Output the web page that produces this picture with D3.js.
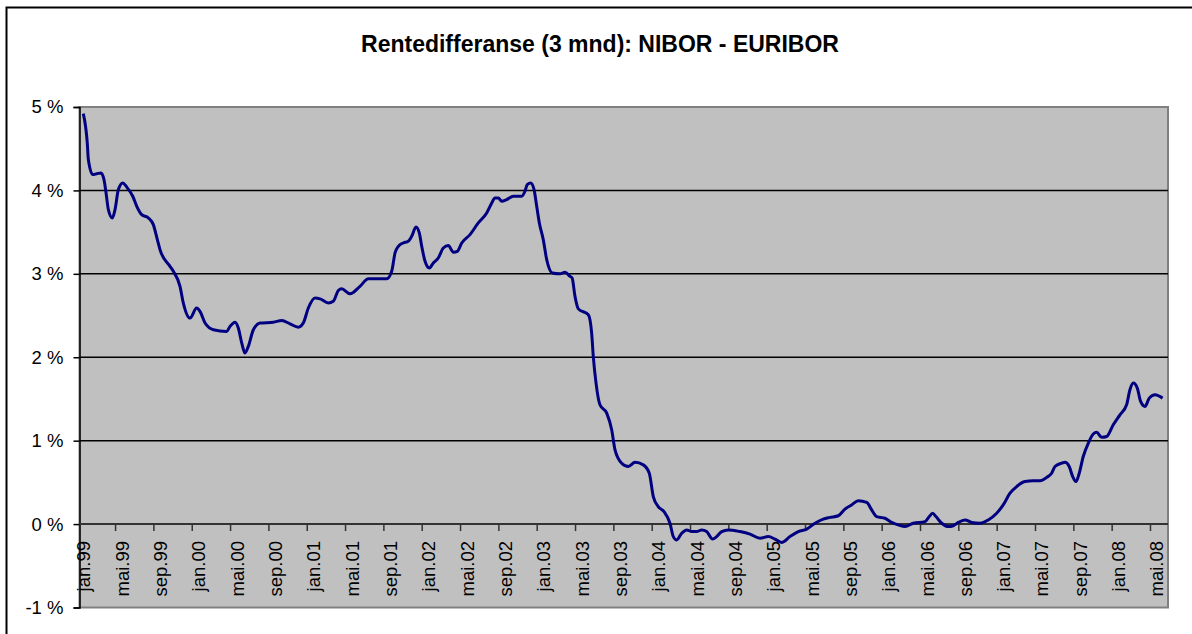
<!DOCTYPE html>
<html>
<head>
<meta charset="utf-8">
<script src="https://cdn.jsdelivr.net/npm/d3@7"></script>
<style>
  body { margin: 0; background: #fff; }
  svg text { font-family: "Liberation Sans", Arial, sans-serif; fill: #000; }
</style>
</head>
<body>
<div id="chart"></div>
<script>
// data (time as decimal year, spread in percentage points)
const years = [
  1999.057, 1999.092, 1999.101, 1999.139, 1999.174, 1999.211, 1999.237, 1999.255, 1999.275, 1999.310,
  1999.333, 1999.362, 1999.400, 1999.435, 1999.487, 1999.522, 1999.565, 1999.623, 1999.666, 1999.701,
  1999.724, 1999.811, 1999.840, 1999.898, 1999.927, 1999.985, 2000.043, 2000.072, 2000.116, 2000.188,
  2000.304, 2000.333, 2000.377, 2000.405, 2000.435, 2000.463, 2000.492, 2000.536, 2000.594, 2000.710,
  2000.783, 2000.855, 2000.927, 2000.970, 2001.014, 2001.072, 2001.116, 2001.188, 2001.231, 2001.275,
  2001.304, 2001.377, 2001.463, 2001.536, 2001.696, 2001.739, 2001.768, 2001.797, 2001.840, 2001.883,
  2001.913, 2001.950, 2001.979, 2002.000, 2002.029, 2002.066, 2002.101, 2002.144, 2002.188, 2002.231,
  2002.275, 2002.310, 2002.348, 2002.420, 2002.492, 2002.565, 2002.609, 2002.637, 2002.666, 2002.696,
  2002.739, 2002.797, 2002.870, 2002.898, 2002.918, 2002.948, 2002.977, 2003.000, 2003.023, 2003.057,
  2003.087, 2003.136, 2003.203, 2003.246, 2003.290, 2003.308, 2003.333, 2003.362, 2003.449, 2003.478,
  2003.492, 2003.516, 2003.550, 2003.609, 2003.652, 2003.681, 2003.739, 2003.797, 2003.855, 2003.927,
  2003.979, 2004.014, 2004.057, 2004.107, 2004.159, 2004.188, 2004.217, 2004.261, 2004.304, 2004.348,
  2004.391, 2004.435, 2004.478, 2004.530, 2004.565, 2004.609, 2004.666, 2004.768, 2004.855, 2004.942,
  2005.014, 2005.072, 2005.130, 2005.203, 2005.275, 2005.348, 2005.420, 2005.492, 2005.550, 2005.623,
  2005.681, 2005.739, 2005.797, 2005.870, 2005.913, 2005.957, 2006.029, 2006.087, 2006.144, 2006.203,
  2006.275, 2006.377, 2006.414, 2006.443, 2006.472, 2006.522, 2006.579, 2006.623, 2006.666, 2006.724,
  2006.783, 2006.855, 2006.927, 2007.000, 2007.057, 2007.116, 2007.174, 2007.246, 2007.318, 2007.377,
  2007.435, 2007.478, 2007.507, 2007.565, 2007.594, 2007.631, 2007.661, 2007.690, 2007.718, 2007.753,
  2007.797, 2007.840, 2007.870, 2007.913, 2007.957, 2008.014, 2008.072, 2008.130, 2008.159, 2008.188,
  2008.223, 2008.252, 2008.290, 2008.327, 2008.377, 2008.443
]
const spread = [
  4.92, 4.56, 4.37, 4.19, 4.20, 4.21, 4.13, 3.97, 3.77, 3.67,
  3.77, 4.01, 4.09, 4.04, 3.93, 3.81, 3.71, 3.67, 3.59, 3.41,
  3.29, 3.09, 3.03, 2.85, 2.65, 2.47, 2.59, 2.55, 2.41, 2.33,
  2.31, 2.37, 2.42, 2.35, 2.17, 2.05, 2.13, 2.33, 2.41, 2.42,
  2.44, 2.40, 2.36, 2.41, 2.59, 2.71, 2.70, 2.65, 2.67, 2.80,
  2.82, 2.76, 2.85, 2.94, 2.94, 3.03, 3.25, 3.33, 3.37, 3.39,
  3.45, 3.56, 3.49, 3.33, 3.15, 3.07, 3.13, 3.19, 3.31, 3.34,
  3.26, 3.27, 3.37, 3.47, 3.61, 3.73, 3.85, 3.91, 3.91, 3.87,
  3.89, 3.93, 3.93, 3.99, 4.07, 4.09, 4.01, 3.81, 3.61, 3.41,
  3.17, 3.01, 3.00, 3.02, 2.97, 2.95, 2.73, 2.58, 2.51, 2.29,
  2.01, 1.69, 1.43, 1.33, 1.13, 0.89, 0.73, 0.69, 0.74, 0.71,
  0.61, 0.33, 0.21, 0.15, 0.01, -0.15, -0.19, -0.11, -0.07, -0.09,
  -0.09, -0.07, -0.09, -0.18, -0.15, -0.09, -0.07, -0.09, -0.12, -0.17,
  -0.15, -0.18, -0.22, -0.15, -0.09, -0.06, 0.01, 0.06, 0.08, 0.10,
  0.18, 0.23, 0.28, 0.26, 0.17, 0.09, 0.07, 0.02, -0.01, -0.03,
  0.01, 0.03, 0.09, 0.13, 0.09, 0.01, -0.03, -0.02, 0.02, 0.05,
  0.02, 0.01, 0.05, 0.13, 0.23, 0.37, 0.45, 0.51, 0.52, 0.52,
  0.56, 0.61, 0.69, 0.73, 0.74, 0.69, 0.57, 0.51, 0.61, 0.81,
  0.97, 1.08, 1.10, 1.04, 1.05, 1.19, 1.31, 1.43, 1.61, 1.69,
  1.63, 1.47, 1.41, 1.51, 1.55, 1.51
]
const tickLabels = [
  "jan.99", "mai.99", "sep.99", "jan.00", "mai.00", "sep.00", "jan.01", "mai.01", "sep.01",
  "jan.02", "mai.02", "sep.02", "jan.03", "mai.03", "sep.03", "jan.04", "mai.04", "sep.04",
  "jan.05", "mai.05", "sep.05", "jan.06", "mai.06", "sep.06", "jan.07", "mai.07", "sep.07",
  "jan.08", "mai.08"
]
const yTicks = [-1, 0, 1, 2, 3, 4, 5]
const title = "Rentedifferanse (3 mnd): NIBOR - EURIBOR"

// layout
const width = 1192
const height = 634
const plot = { left: 79.5, right: 1168, top: 107, bottom: 607.5 }

const svg = d3.select("div#chart")
  .append("svg")
  .attr("width", width)
  .attr("height", height)

// chart frame (only top and left edges are inside the picture)
svg.append("rect")
  .attr("x", 6.5).attr("y", 7.5)
  .attr("width", width + 20).attr("height", height + 20)
  .attr("fill", "#fff")
  .attr("stroke", "#000")
  .attr("stroke-width", 2)

svg.append("text")
  .attr("x", 600).attr("y", 52)
  .attr("text-anchor", "middle")
  .style("font-size", "23px")
  .style("font-weight", "bold")
  .text(title)

// scales
const x = d3.scaleLinear()
  .domain([1999.024, 2008.49])
  .range([plot.left, plot.right])
const y = d3.scaleLinear()
  .domain([-1, 5])
  .range([plot.bottom, plot.top])

// plot area
svg.append("rect")
  .attr("x", plot.left).attr("y", plot.top)
  .attr("width", plot.right - plot.left)
  .attr("height", plot.bottom - plot.top)
  .attr("fill", "#c0c0c0")
  .attr("stroke", "#808080")
  .attr("stroke-width", 2)

// gridlines
svg.append("g")
  .selectAll("line")
  .data(yTicks.filter(d => d > 0 && d < 5))
  .join("line")
  .attr("x1", plot.left).attr("x2", plot.right)
  .attr("y1", d => y(d)).attr("y2", d => y(d))
  .attr("stroke", "#000")
  .attr("stroke-width", 1.5)

// y axis
const yAxisGroup = svg.append("g")
  .attr("transform", `translate(${plot.left},0)`)
  .call(d3.axisLeft(y).tickValues(yTicks).tickSize(6).tickPadding(10).tickFormat(d => d + " %"))
yAxisGroup.select(".domain").attr("stroke", "#000").attr("stroke-width", 1.5)
yAxisGroup.selectAll(".tick line").attr("stroke", "#000").attr("stroke-width", 1.5)
yAxisGroup.selectAll(".tick text")
  .style("font-size", "18.5px")
  .attr("fill", "#000")
  .attr("x", -16)

// x axis at 0 %
const tickValues = tickLabels.map((d, i) => 1999 + i / 3)
const xAxisGroup = svg.append("g")
  .attr("transform", `translate(0,${y(0)})`)
  .call(d3.axisBottom(x).tickValues(tickValues.filter(d => d > 1999.01)).tickSize(7).tickFormat(""))
xAxisGroup.select(".domain")
  .attr("d", `M${plot.left},0H${plot.right}`)
  .attr("stroke", "#333")
  .attr("stroke-width", 2)
xAxisGroup.selectAll(".tick line").attr("stroke", "#333").attr("stroke-width", 1.5)

svg.append("g")
  .selectAll("text")
  .data(tickValues)
  .join("text")
  .attr("transform", d => `translate(${x(d) + 13.5},541) rotate(-90)`)
  .attr("text-anchor", "end")
  .style("font-size", "18.5px")
  .text((d, i) => tickLabels[i])

// line
const series = years.map((d, i) => ({ t: d, v: spread[i] }))
const line = d3.line()
  .x(d => x(d.t))
  .y(d => y(d.v))
  .curve(d3.curveMonotoneX)

svg.append("path")
  .datum(series)
  .attr("d", line)
  .attr("fill", "none")
  .attr("stroke", "#000080")
  .attr("stroke-width", 3)
  .attr("stroke-linejoin", "round")
</script>
</body>
</html>
